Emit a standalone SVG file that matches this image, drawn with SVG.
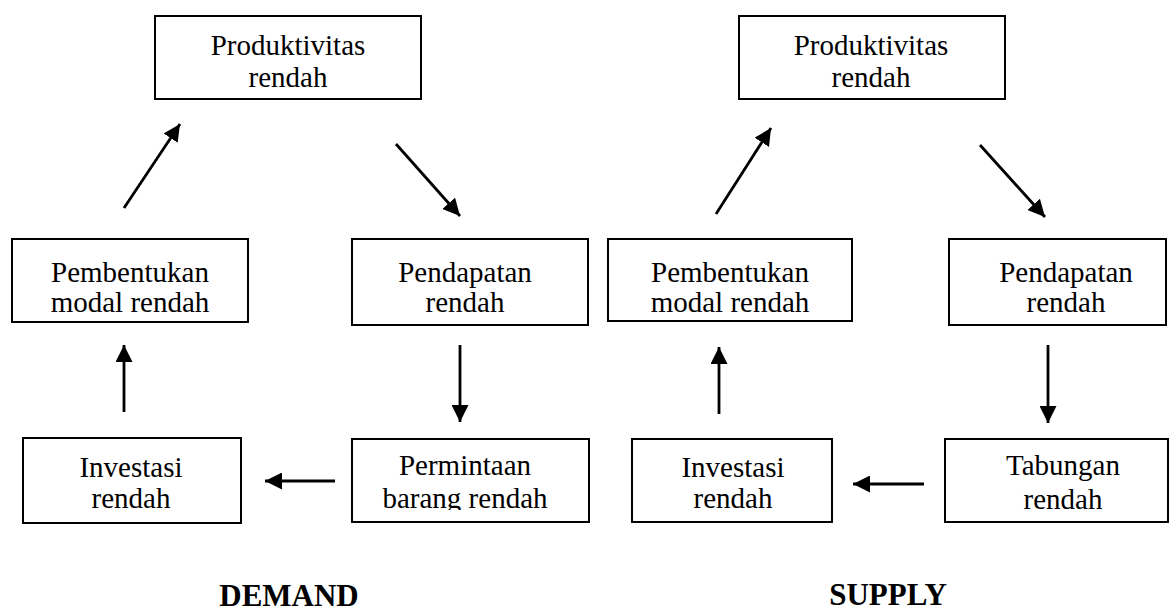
<svg xmlns="http://www.w3.org/2000/svg" width="1173" height="607" viewBox="0 0 1173 607">
<style>
.box{fill:#fff;stroke:#000;stroke-width:2}
.t{font-family:"Liberation Serif","Times New Roman",serif;font-size:29px;fill:#000;text-anchor:middle}
.h{font-family:"Liberation Serif","Times New Roman",serif;font-size:31px;font-weight:bold;fill:#000;text-anchor:middle}
.c{stroke:#000;stroke-width:2.8;fill:none;marker-end:url(#ah)}
</style>
<defs>
<marker id="ah" markerUnits="userSpaceOnUse" markerWidth="17" markerHeight="17" viewBox="0 0 17 17" refX="17" refY="8.5" orient="auto">
<path d="M0,0 L17,8.5 L0,17 z" fill="#000"/>
</marker>
<clipPath id="clipPerm"><rect x="352" y="439" width="237" height="71"/></clipPath>
</defs>
<rect width="1173" height="607" fill="#fff"/>

<g id="d-produktivitas">
<rect class="box" x="155" y="16" width="266" height="83"/>
<text class="t" x="288" y="55">Produktivitas</text>
<text class="t" x="288" y="87">rendah</text>
</g>
<g id="d-pembentukan">
<rect class="box" x="12" y="239" width="236" height="83"/>
<text class="t" x="130" y="282">Pembentukan</text>
<text class="t" x="130" y="312">modal rendah</text>
</g>
<g id="d-pendapatan">
<rect class="box" x="352" y="239" width="236" height="86"/>
<text class="t" x="465" y="282">Pendapatan</text>
<text class="t" x="465" y="312">rendah</text>
</g>
<g id="d-investasi">
<rect class="box" x="23" y="438" width="218" height="85"/>
<text class="t" x="131" y="477">Investasi</text>
<text class="t" x="131" y="508">rendah</text>
</g>
<g id="d-permintaan">
<rect class="box" x="352" y="439" width="237" height="83"/>
<g clip-path="url(#clipPerm)">
<text class="t" x="465" y="475">Permintaan</text>
<text class="t" x="465" y="508">barang rendah</text>
</g>
</g>

<g id="s-produktivitas">
<rect class="box" x="739" y="16" width="266" height="83"/>
<text class="t" x="871" y="55">Produktivitas</text>
<text class="t" x="871" y="87">rendah</text>
</g>
<g id="s-pembentukan">
<rect class="box" x="608" y="239" width="244" height="82"/>
<text class="t" x="730" y="282">Pembentukan</text>
<text class="t" x="730" y="312">modal rendah</text>
</g>
<g id="s-pendapatan">
<rect class="box" x="949" y="239" width="217" height="86"/>
<text class="t" x="1066" y="282">Pendapatan</text>
<text class="t" x="1066" y="312">rendah</text>
</g>
<g id="s-investasi">
<rect class="box" x="632" y="439" width="200" height="83"/>
<text class="t" x="733" y="477">Investasi</text>
<text class="t" x="733" y="508">rendah</text>
</g>
<g id="s-tabungan">
<rect class="box" x="945" y="439" width="223" height="83"/>
<text class="t" x="1063" y="475">Tabungan</text>
<text class="t" x="1063" y="509">rendah</text>
</g>

<g id="connectors">
<line class="c" x1="124" y1="208" x2="180" y2="124"/>
<line class="c" x1="396" y1="144" x2="460" y2="216"/>
<line class="c" x1="460" y1="345" x2="460" y2="422"/>
<line class="c" x1="335" y1="481" x2="265" y2="481"/>
<line class="c" x1="124" y1="412" x2="124" y2="345"/>

<line class="c" x1="716" y1="214" x2="771" y2="128"/>
<line class="c" x1="980" y1="145" x2="1045" y2="217"/>
<line class="c" x1="1048" y1="345" x2="1048" y2="423"/>
<line class="c" x1="924" y1="484" x2="853" y2="484"/>
<line class="c" x1="719" y1="414" x2="719" y2="347"/>
</g>

<text class="h" x="289" y="606">DEMAND</text>
<text class="h" x="888" y="605">SUPPLY</text>
</svg>
